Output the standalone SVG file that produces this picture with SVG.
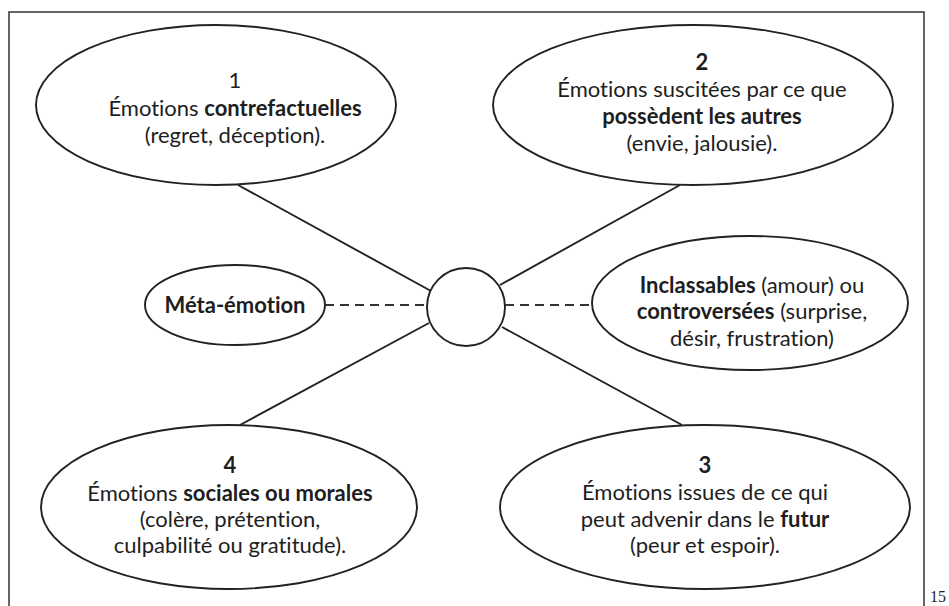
<svg xmlns="http://www.w3.org/2000/svg" width="949" height="606" viewBox="0 0 949 606">
<style>
.sh{fill:#fff;stroke:#222;stroke-width:1.9}
.ln{stroke:#222;stroke-width:1.9;fill:none}
.dash{stroke:#333;stroke-width:1.9;stroke-dasharray:9 6;fill:none}
text{font-family:Lato,"Open Sans","Liberation Sans",sans-serif;font-size:22px;fill:#1e1e1e;text-anchor:middle;font-variant-ligatures:none;font-feature-settings:"liga" 0}
.b{font-weight:bold}
</style>
<rect width="949" height="606" fill="#fff"/>
<path d="M9,606 V12 H924 V606" fill="none" stroke="#333" stroke-width="1.5"/>
<g id="connectors">
<line class="ln" x1="238" y1="185" x2="431" y2="291"/>
<line class="ln" x1="680" y1="185" x2="500" y2="285"/>
<line class="ln" x1="429" y1="323" x2="240" y2="425"/>
<line class="ln" x1="502" y1="327" x2="682" y2="425"/>
<line class="dash" x1="325" y1="305" x2="427" y2="305"/>
<line class="dash" x1="505" y1="305" x2="592" y2="305"/>
</g>
<g id="center"><circle class="sh" cx="466" cy="307" r="39"/></g>
<g id="n1">
<ellipse class="sh" cx="216" cy="105" rx="180" ry="80"/>
<text x="235" y="88">1</text>
<text x="235" y="116">Émotions <tspan class="b">contrefactuelles</tspan></text>
<text x="235" y="143">(regret, déception).</text>
</g>
<g id="n2">
<ellipse class="sh" cx="693" cy="105" rx="200" ry="80"/>
<text x="702" y="70" class="b">2</text>
<text x="702" y="97">Émotions suscitées par ce que</text>
<text x="702" y="124" class="b">possèdent les autres</text>
<text x="702" y="151">(envie, jalousie).</text>
</g>
<g id="meta">
<ellipse class="sh" cx="235" cy="305" rx="90" ry="40"/>
<text x="235" y="313" class="b">Méta-émotion</text>
</g>
<g id="inclassables">
<ellipse class="sh" cx="750" cy="303" rx="158" ry="67"/>
<text x="752" y="293"><tspan class="b">Inclassables</tspan> (amour) ou</text>
<text x="752" y="319"><tspan class="b">controversées</tspan> (surprise,</text>
<text x="752" y="346">désir, frustration)</text>
</g>
<g id="n4">
<ellipse class="sh" cx="229" cy="507" rx="188" ry="82"/>
<text x="230" y="473" class="b">4</text>
<text x="230" y="501">Émotions <tspan class="b">sociales ou morales</tspan></text>
<text x="230" y="527">(colère, prétention,</text>
<text x="230" y="553">culpabilité ou gratitude).</text>
</g>
<g id="n3">
<ellipse class="sh" cx="705" cy="507" rx="205" ry="82"/>
<text x="705" y="473" class="b">3</text>
<text x="705" y="500">Émotions issues de ce qui</text>
<text x="705" y="527">peut advenir dans le <tspan class="b">futur</tspan></text>
<text x="705" y="553">(peur et espoir).</text>
</g>
<text x="946" y="602" style="font-family:'Liberation Serif',serif;font-size:16px;text-anchor:end">15</text>
</svg>
